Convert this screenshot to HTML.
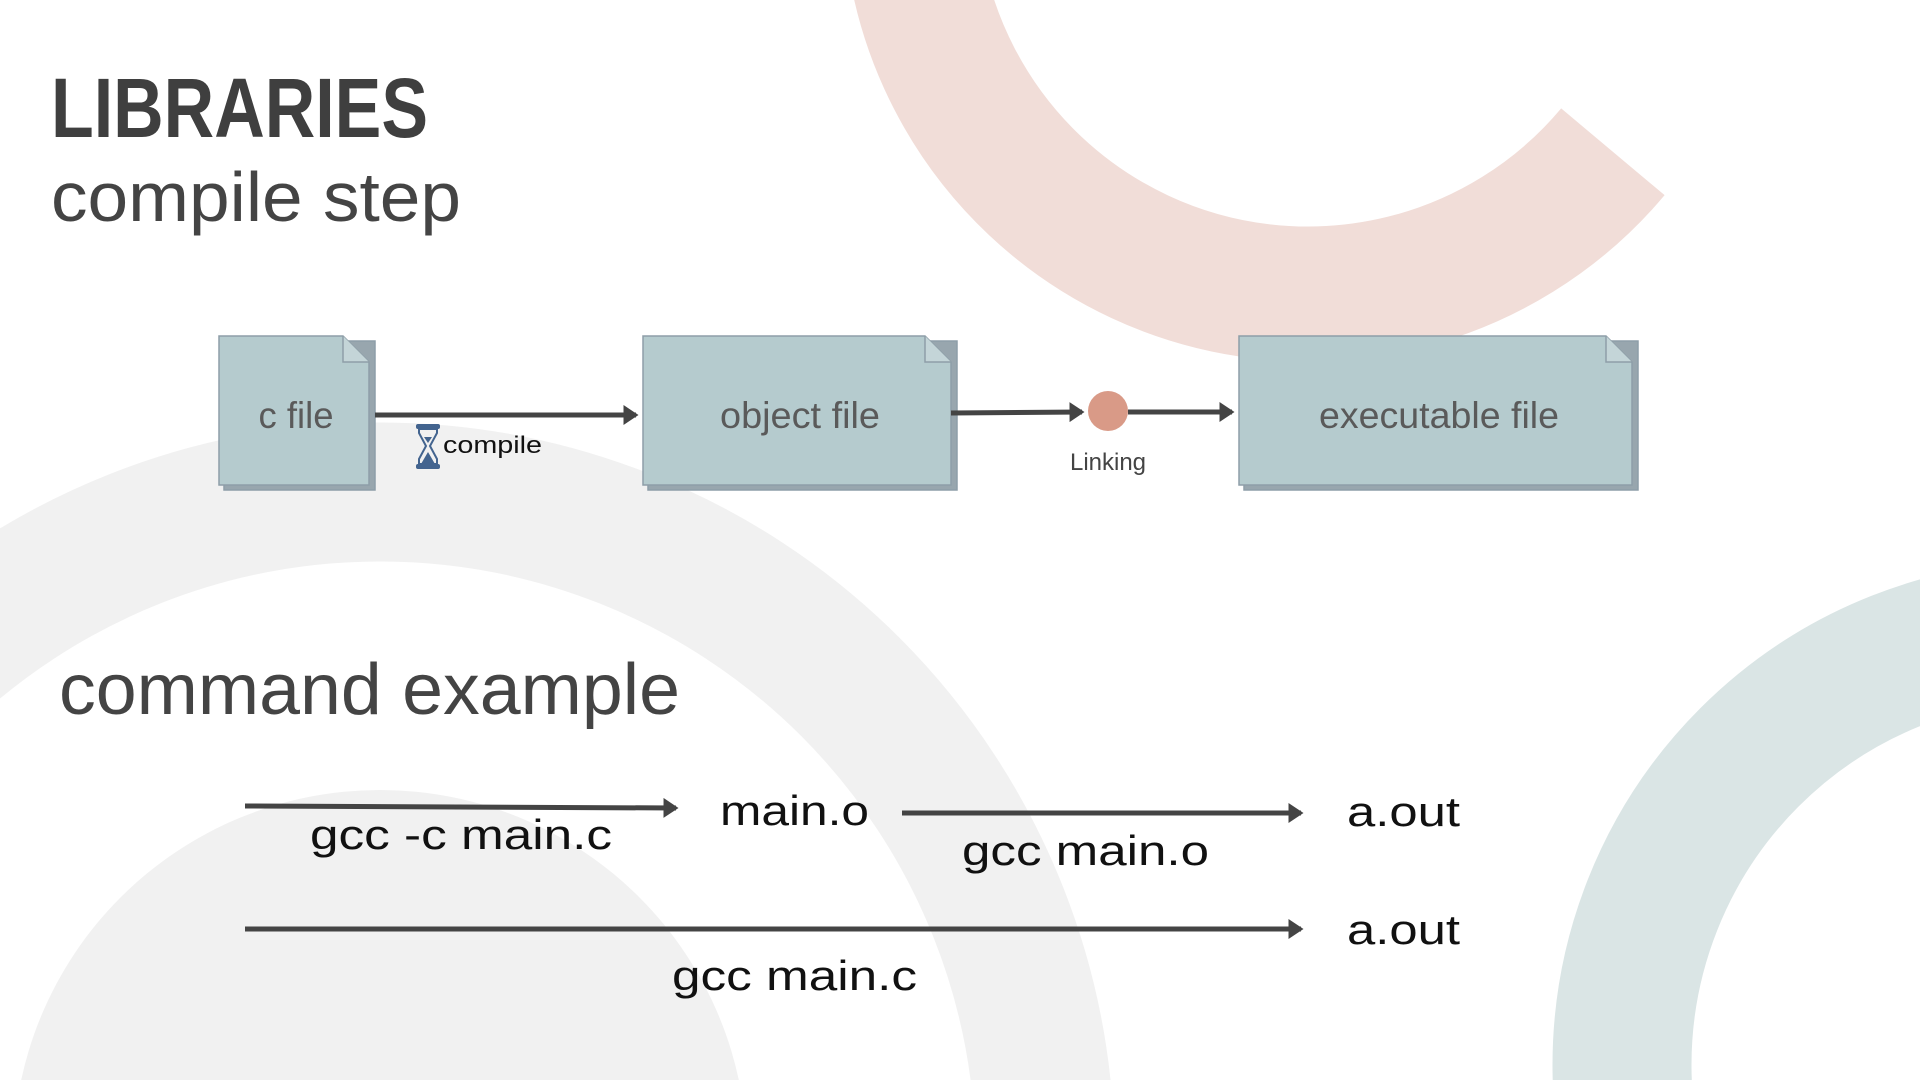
<!DOCTYPE html>
<html><head><meta charset="utf-8"><style>
html,body{margin:0;padding:0;background:#fff;width:1920px;height:1080px;overflow:hidden;}
svg{display:block;}
</style></head><body>
<svg width="1920" height="1080" viewBox="0 0 1920 1080" xmlns="http://www.w3.org/2000/svg">
<defs>
<marker id="ah" markerWidth="4" markerHeight="4" refX="2.5" refY="2" orient="auto" markerUnits="strokeWidth">
<path d="M0,0 L3,2 L0,4 Z" fill="#444"/></marker>
</defs>
<rect width="1920" height="1080" fill="#fff"/>
<circle cx="380" cy="1157" r="665" fill="none" stroke="#f1f1f1" stroke-width="139"/>
<circle cx="380" cy="1157" r="367" fill="#f1f1f1"/>
<circle cx="2057" cy="1065" r="435" fill="none" stroke="#dae5e5" stroke-width="139"/>
<path d="M 1612.9 151.8 A 398 398 0 0 1 916 -173" fill="none" stroke="#f1ddd8" stroke-width="135"/>

<text x="51" y="137" font-family="Liberation Sans, sans-serif" font-weight="bold" font-size="84" fill="#3f3f3f" textLength="377" lengthAdjust="spacingAndGlyphs">LIBRARIES</text>
<text x="51" y="221" font-family="Liberation Sans, sans-serif" font-size="70" fill="#444" textLength="410" lengthAdjust="spacingAndGlyphs">compile step</text>

<g fill="#b5cbce" stroke="#8e9ea8" stroke-width="1.5">
<path d="M224,341 H375 V490 H224 Z" fill="#98a6ae"/>
<path d="M219,336 H343 L369,362 V485 H219 Z"/>
<path d="M343,336 V362 H369" fill="#c4d5d8"/>
<path d="M648,341 H957 V490 H648 Z" fill="#98a6ae"/>
<path d="M643,336 H925 L951,362 V485 H643 Z"/>
<path d="M925,336 V362 H951" fill="#c4d5d8"/>
<path d="M1244,341 H1638 V490 H1244 Z" fill="#98a6ae"/>
<path d="M1239,336 H1606 L1632,362 V485 H1239 Z"/>
<path d="M1606,336 V362 H1632" fill="#c4d5d8"/>
</g>
<g font-family="Liberation Sans, sans-serif" font-size="37" fill="#5a5a5a" text-anchor="middle">
<text x="296" y="428" textLength="75" lengthAdjust="spacingAndGlyphs">c file</text>
<text x="800" y="428" textLength="160" lengthAdjust="spacingAndGlyphs">object file</text>
<text x="1439" y="428" textLength="240" lengthAdjust="spacingAndGlyphs">executable file</text>
</g>
<g stroke="#444" stroke-width="5" fill="none">
<line x1="375" y1="415" x2="636" y2="415" marker-end="url(#ah)"/>
<line x1="951" y1="413" x2="1082" y2="412" marker-end="url(#ah)"/>
<line x1="1128" y1="412" x2="1232" y2="412" marker-end="url(#ah)"/>
</g>
<circle cx="1108" cy="411" r="20" fill="#d99a87"/>
<text x="1108" y="470" font-family="Liberation Sans, sans-serif" font-size="24" fill="#444" text-anchor="middle">Linking</text>
<g fill="#43648f">
<rect x="416" y="424" width="24" height="5" rx="2"/>
<rect x="416" y="464" width="24" height="5" rx="2"/>
<path d="M419,429 L437,429 L437,433 L430,446 L437,459 L437,464 L419,464 L419,459 L426,446 L419,433 Z" fill="none" stroke="#43648f" stroke-width="2"/>
<path d="M421,464 L428,452 L435,464 Z"/>
<path d="M424,437 L432,437 L428,443 Z"/>
</g>
<text x="443" y="453" font-family="Liberation Sans, sans-serif" font-size="24" fill="#111" textLength="99" lengthAdjust="spacingAndGlyphs">compile</text>

<text x="59" y="714" font-family="Liberation Sans, sans-serif" font-size="72" fill="#444" textLength="621" lengthAdjust="spacingAndGlyphs">command example</text>

<g stroke="#444" stroke-width="5" fill="none">
<line x1="245" y1="806" x2="676" y2="808" marker-end="url(#ah)"/>
<line x1="902" y1="813" x2="1301" y2="813" marker-end="url(#ah)"/>
<line x1="245" y1="929" x2="1301" y2="929" marker-end="url(#ah)"/>
</g>
<g font-family="Liberation Sans, sans-serif" font-size="42" fill="#111">
<text x="310" y="849" textLength="302" lengthAdjust="spacingAndGlyphs">gcc -c main.c</text>
<text x="720" y="825" textLength="149" lengthAdjust="spacingAndGlyphs">main.o</text>
<text x="962" y="865" textLength="247" lengthAdjust="spacingAndGlyphs">gcc main.o</text>
<text x="1347" y="826" textLength="113" lengthAdjust="spacingAndGlyphs">a.out</text>
<text x="1347" y="944" textLength="113" lengthAdjust="spacingAndGlyphs">a.out</text>
<text x="672" y="990" textLength="245" lengthAdjust="spacingAndGlyphs">gcc main.c</text>
</g>
</svg>
</body></html>
